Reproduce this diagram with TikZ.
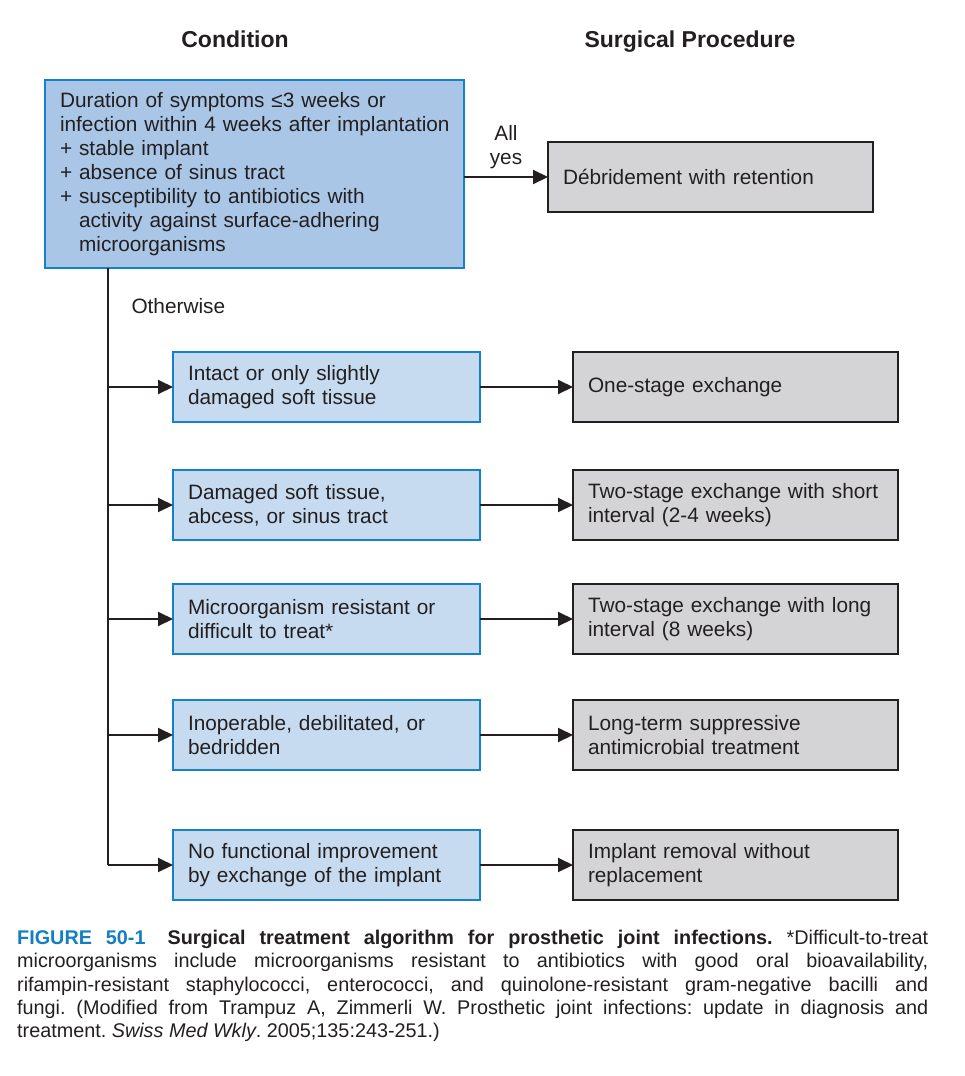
\documentclass[tikz,border=0pt]{standalone}
\usepackage{fontspec}
\setmainfont{Liberation Sans}
\newfontfamily\capfont[FakeStretch=1.0]{Liberation Sans}
\usetikzlibrary{positioning, arrows.meta}

\definecolor{ink}{RGB}{35,31,32}
\definecolor{topblue}{RGB}{169,198,230}
\definecolor{condblue}{RGB}{198,219,240}
\definecolor{lineblue}{RGB}{20,130,200}
\definecolor{procgray}{RGB}{212,212,214}
\definecolor{figblue}{RGB}{20,126,194}

\begin{document}
\begin{tikzpicture}[x=1pt, y=-1pt,
      txt/.style={font=\fontsize{20.8}{24}\selectfont, text=ink},
      head/.style={font=\bfseries\fontsize{23}{26}\selectfont, text=ink, anchor=base},
      cond/.style={txt, rectangle, draw=lineblue, line width=2.4pt, fill=condblue, outer sep=0pt,
        minimum width=307pt, minimum height=70pt, text width=277pt, inner xsep=15pt, align=left},
      proc/.style={txt, rectangle, draw=ink, line width=2.4pt, fill=procgray, outer sep=0pt,
        minimum width=325pt, minimum height=70pt, text width=295pt, inner xsep=15pt, align=left},
      arr/.style={draw=ink, line width=2pt, -{Triangle[length=15pt, width=14pt]}}]

      \useasboundingbox (0,0) rectangle (964,1076);

      \node[head] (hcond) at (235,47) {Condition};
      \node[head] (hproc) at (690,47) {Surgical Procedure};

      \node[cond, fill=topblue, minimum width=419pt, minimum height=188pt, text width=389pt,
        anchor=north west] (crit) at (45,80)
        {Duration of symptoms ≤3 weeks or\\
         \mbox{infection within 4 weeks after implantation}\\
         + stable implant\\
         + absence of sinus tract\\
         + susceptibility to antibiotics with\\
         \hphantom{+\ }activity against surface-adhering\\
         \hphantom{+\ }microorganisms};
      \node[proc] (deb) [right=84pt of crit, yshift=-3pt] {Débridement with retention};
      \node[txt, align=center] (allyes) at (506,147) {All\\yes};

      \coordinate (trunk) at ([xshift=63pt]crit.south west);
      \node[txt, anchor=west] (other) at (128,306) {Otherwise};

      \node[cond, anchor=north west] (c1) at (173,352) {Intact or only slightly\\damaged soft tissue};
      \node[cond] (c2) [below=48pt of c1] {Damaged soft tissue,\\abcess, or sinus tract};
      \node[cond] (c3) [below=44pt of c2] {Microorganism resistant or\\difficult to treat*};
      \node[cond] (c4) [below=46pt of c3] {Inoperable, debilitated, or\\bedridden};
      \node[cond] (c5) [below=60pt of c4] {No functional improvement\\by exchange of the implant};

      \node[proc] (p1) [right=93pt of c1] {One-stage exchange};
      \node[proc] (p2) [right=93pt of c2] {Two-stage exchange with short\\interval (2-4 weeks)};
      \node[proc] (p3) [right=93pt of c3] {Two-stage exchange with long\\interval (8 weeks)};
      \node[proc] (p4) [right=93pt of c4] {Long-term suppressive\\antimicrobial treatment};
      \node[proc] (p5) [right=93pt of c5] {Implant removal without\\replacement};

      \draw[arr] (crit.east |- deb.west) -- (deb.west);
      \draw[draw=ink, line width=2pt] (trunk) -- (trunk |- c5.west);
      \foreach \i in {1,...,5} {
        \draw[arr] (trunk |- c\i.west) -- (c\i.west);
        \draw[arr] (c\i.east) -- (p\i.west);
      }

      % caption
      \node[anchor=north west, text width=911pt, align=justify, inner sep=0pt, text=ink,
        font=\capfont\fontsize{19.8}{23.3}\selectfont\frenchspacing] (caption) at (17,930)
        {\textcolor{figblue}{\textbf{FIGURE 50-1}}\hspace{22pt}\textbf{Surgical treatment algorithm for prosthetic joint infections.} *Difficult-to-treat\linebreak
         microorganisms include microorganisms resistant to antibiotics with good oral bioavailability,\linebreak
         rifampin-resistant staphylococci, enterococci, and quinolone-resistant gram-negative bacilli and\linebreak
         fungi. (Modified from Trampuz A, Zimmerli W. Prosthetic joint infections: update in diagnosis and\linebreak
         treatment. \textit{Swiss Med Wkly}. 2005;135:243-251.)};
\end{tikzpicture}
\end{document}
